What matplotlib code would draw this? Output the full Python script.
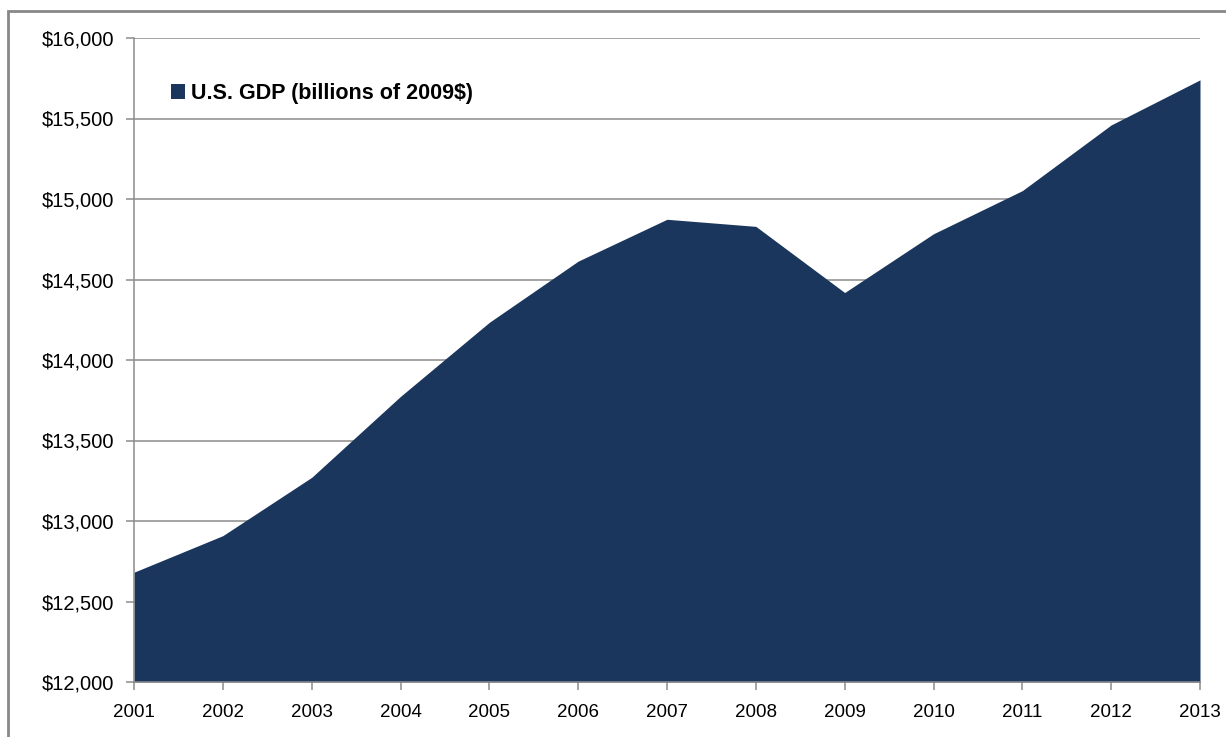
import numpy as np
import matplotlib
matplotlib.use('Agg')
import matplotlib.pyplot as plt
from matplotlib.patches import Rectangle
from matplotlib.ticker import FuncFormatter

years = [2001, 2002, 2003, 2004, 2005, 2006, 2007, 2008, 2009, 2010, 2011, 2012, 2013]
gdp = [12682, 12909, 13271, 13774, 14234, 14614, 14874, 14830, 14419, 14784, 15052, 15460, 15740]
label = 'U.S. GDP (billions of 2009$)'

plt.rcParams['font.family'] = ['Liberation Sans', 'DejaVu Sans']

fig = plt.figure(figsize=(12.26, 7.37), dpi=100)
ax = fig.add_axes([134/1226, 55/737, 1066/1226, 644/737])

ax.fill_between(years, gdp, 12000, color='#1b365d', lw=0, label=label, zorder=2)

ax.set_xlim(2001, 2013)
ax.set_ylim(12000, 16000)
ax.set_xticks(years)
ax.set_yticks(np.arange(12000, 16001, 500))
ax.yaxis.set_major_formatter(FuncFormatter(lambda v, p: f'${v:,.0f}'))
ax.grid(axis='y', color='#8c8c8c', lw=1.1, zorder=1)
ax.set_axisbelow(True)

for s in ['top', 'right']:
    ax.spines[s].set_visible(False)
for s in ['left', 'bottom']:
    ax.spines[s].set_color('#8c8c8c')
    ax.spines[s].set_linewidth(1.1)
ax.tick_params(axis='both', direction='out', length=6, width=1.1, color='#8c8c8c',
               labelcolor='black')
ax.tick_params(axis='y', pad=8, labelsize=14.5)
ax.tick_params(axis='x', pad=10, labelsize=13.5)

leg = ax.legend(loc='center left', bbox_to_anchor=(0.0347, 0.914), frameon=False,
                handlelength=0.65, handleheight=0.7, handletextpad=0.3, borderpad=0,
                borderaxespad=0, prop={'size': 15.5, 'weight': 'bold'})

fig.patches.append(Rectangle((8/1226, -0.1), 1.2, (737-11)/737 + 0.1, transform=fig.transFigure,
                             fill=False, edgecolor='#888888', lw=2, clip_on=False))

plt.savefig('out.png', dpi=100)
